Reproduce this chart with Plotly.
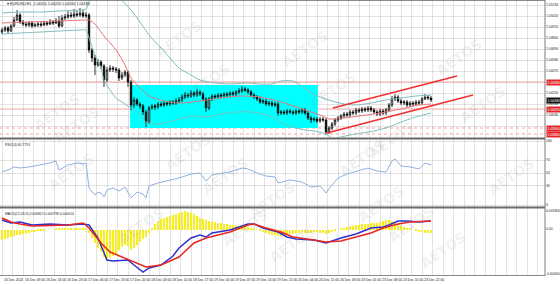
import plotly.graph_objects as go
from datetime import datetime, timedelta

# ---------------- data (EURUSD H1) ----------------
first_open = 1.0486
closes = [1.0488,1.0490,1.0487,1.0492,1.0498,1.0503,1.0496,1.0494,1.0493,1.0495,1.0492,1.0493,1.0494,1.0493,1.0495,1.0494,1.0496,1.0495,1.0497,1.0492,1.0500,1.0501,1.0503,1.0502,1.0504,1.0503,1.0505,1.0502,1.0503,
          1.0468,1.0460,1.0453,1.0456,1.0452,1.0438,1.0448,1.0450,1.0449,1.0448,1.0440,1.0443,1.0446,1.0436,
          1.0413,1.0418,1.0414,1.0412,1.0406,1.0396,1.0410,1.0412,1.0411,1.0414,1.0413,1.0415,1.0414,1.0416,1.0415,1.0417,1.0418,
          1.0421,1.0423,1.0422,1.0425,1.0423,1.0426,1.0424,1.0419,1.0410,1.0419,1.0422,1.0421,1.0423,1.0422,1.0424,1.0423,1.0425,1.0424,1.0426,1.0427,1.0429,1.0428,1.0426,1.0423,1.0421,1.0419,1.0416,1.0417,1.0414,1.0415,1.0413,1.0414,
          1.0405,1.0406,1.0405,1.0407,1.0406,1.0405,1.0407,1.0406,1.0408,1.0405,1.0400,1.0398,1.0399,1.0397,1.0399,1.0398,
          1.0386,1.0390,1.0394,1.0398,1.0400,1.0402,1.0404,1.0403,1.0406,1.0405,1.0408,1.0407,1.0409,1.0408,1.0410,1.0408,1.0406,1.0404,1.0407,1.0405,1.0408,1.0413,1.0419,1.0421,1.0417,1.0415,1.0416,1.0413,1.0415,1.0414,1.0416,1.0415,1.0419,1.0421,1.0420,1.0418]
highs = [1.0490,1.0492,1.0492,1.0494,1.0501,1.0508,1.0505,1.0498,1.0496,1.0497,1.0497,1.0495,1.0496,1.0496,1.0497,1.0497,1.0499,1.0498,1.0500,1.0502,1.0503,1.0504,1.0507,1.0506,1.0509,1.0507,1.0510,1.0508,1.0506,
         1.0505,1.0470,1.0463,1.0459,1.0458,1.0454,1.0451,1.0453,1.0452,1.0451,1.0450,1.0446,1.0448,1.0447,
         1.0438,1.0421,1.0420,1.0416,1.0414,1.0408,1.0412,1.0414,1.0414,1.0416,1.0416,1.0417,1.0417,1.0418,1.0418,1.0420,1.0421,
         1.0424,1.0426,1.0425,1.0428,1.0427,1.0429,1.0428,1.0426,1.0421,1.0421,1.0424,1.0424,1.0425,1.0425,1.0426,1.0426,1.0427,1.0427,1.0428,1.0430,1.0432,1.0431,1.0430,1.0428,1.0425,1.0423,1.0421,1.0419,1.0419,1.0417,1.0417,1.0416,
         1.0416,1.0408,1.0408,1.0409,1.0409,1.0408,1.0409,1.0409,1.0410,1.0410,1.0407,1.0402,1.0401,1.0401,1.0401,1.0401,
         1.0400,1.0392,1.0396,1.0400,1.0402,1.0404,1.0406,1.0406,1.0408,1.0408,1.0410,1.0410,1.0411,1.0411,1.0412,1.0412,1.0410,1.0408,1.0409,1.0409,1.0410,1.0415,1.0422,1.0424,1.0423,1.0419,1.0418,1.0418,1.0417,1.0417,1.0418,1.0418,1.0421,1.0424,1.0423,1.0422]
lows = [1.0484,1.0486,1.0485,1.0486,1.0491,1.0497,1.0494,1.0492,1.0491,1.0491,1.0490,1.0491,1.0491,1.0491,1.0492,1.0492,1.0493,1.0493,1.0494,1.0490,1.0491,1.0498,1.0499,1.0500,1.0500,1.0501,1.0501,1.0500,1.0500,
        1.0465,1.0456,1.0443,1.0451,1.0449,1.0431,1.0436,1.0446,1.0446,1.0445,1.0437,1.0438,1.0441,1.0431,
        1.0408,1.0410,1.0412,1.0409,1.0403,1.0391,1.0394,1.0408,1.0408,1.0409,1.0411,1.0411,1.0412,1.0412,1.0413,1.0413,1.0415,
        1.0416,1.0419,1.0420,1.0420,1.0421,1.0421,1.0422,1.0417,1.0406,1.0408,1.0417,1.0419,1.0419,1.0420,1.0420,1.0421,1.0421,1.0422,1.0422,1.0424,1.0425,1.0426,1.0424,1.0421,1.0419,1.0417,1.0414,1.0414,1.0412,1.0412,1.0411,1.0411,
        1.0402,1.0403,1.0403,1.0403,1.0404,1.0403,1.0403,1.0404,1.0404,1.0403,1.0398,1.0395,1.0396,1.0395,1.0395,1.0396,
        1.0383,1.0384,1.0388,1.0392,1.0396,1.0398,1.0400,1.0401,1.0401,1.0403,1.0403,1.0405,1.0405,1.0406,1.0406,1.0406,1.0404,1.0402,1.0402,1.0403,1.0403,1.0406,1.0411,1.0417,1.0415,1.0413,1.0413,1.0411,1.0411,1.0412,1.0412,1.0413,1.0413,1.0418,1.0418,1.0416]
opens = [first_open] + closes[:-1]
bars = list(range(len(closes)))
start_time = datetime(2024, 12, 16, 2, 0)

# Bollinger bands (read at sample bars)
bb_upper_bars = [0,6,13,19,26,28,29,31,34,38,40,43,46,49,53,56,59,63,66,71,76,81,86,90,93,97,100,103,107,110,114,118,123,128,133,138,143]
bb_upper = [1.0505,1.0506,1.0506,1.0507,1.0508,1.0509,1.0516,1.0526,1.0533,1.0528,1.0518,1.0508,1.0496,1.0483,1.0470,1.0460,1.0450,1.0443,1.0438,1.0435,1.0434,1.0435,1.0434,1.0434,1.0437,1.0437,1.0432,1.0425,1.0420,1.0417,1.0414,1.0413,1.0415,1.0418,1.0420,1.0422,1.0423]
bb_lower_bars = [0,6,13,19,26,28,29,31,33,34,36,38,41,43,46,48,51,54,58,63,68,73,78,83,87,91,94,98,101,104,108,110,113,116,120,124,129,134,139,143]
bb_lower = [1.0484,1.0485,1.0486,1.0487,1.0488,1.0488,1.0480,1.0463,1.0450,1.0438,1.0428,1.0420,1.0414,1.0410,1.0403,1.0396,1.0394,1.0395,1.0398,1.0402,1.0401,1.0404,1.0406,1.0406,1.0404,1.0400,1.0394,1.0390,1.0388,1.0387,1.0384,1.0380,1.0381,1.0383,1.0385,1.0387,1.0391,1.0397,1.0402,1.0405]
bb_mid_bars = [0,9,19,28,29,31,34,38,41,43,46,49,54,59,66,73,79,86,93,99,106,109,114,119,126,133,139,143]
bb_mid = [1.0495,1.0496,1.0497,1.0498,1.0498,1.0494,1.0482,1.0468,1.0453,1.0440,1.0430,1.0422,1.0417,1.0415,1.0417,1.0420,1.0422,1.0421,1.0416,1.0410,1.0403,1.0399,1.0400,1.0402,1.0405,1.0409,1.0413,1.0414]

# drawn objects
box_bars = [42.7, 105.3]
box_prices = [1.0390, 1.0433]
chan_upper_bars = [110.3, 151.7]
chan_upper_prices = [1.0410, 1.0442]
chan_lower_bars = [108.3, 157.0]
chan_lower_prices = [1.0385, 1.0423]
level_prices = [1.0436, 1.0409, 1.0390, 1.0384]
level_dash = ["solid", "solid", "dot", "dot"]
current_price = 1.0418
price_ticks = [1.0513,1.0502,1.0491,1.0480,1.0469,1.0458,1.0447,1.0436,1.0425,1.0414,1.0403,1.0392]

# RSI(14)
rsi_bars = [0,2,4,6,9,13,16,18,19,22,25,27,28,29,30,31,32,33,34,35,37,39,41,42,43,45,47,48,49,52,56,59,63,66,68,70,76,80,82,85,88,91,92,96,100,103,106,108,110,112,115,119,122,125,128,130,131,133,136,139,141,143]
rsi_vals = [51.6,54.7,59.4,57.8,59.4,62.5,65.6,68.8,54.7,62.5,65.6,64.1,65.6,26.6,21.9,15.6,20.3,18.8,12.5,23.4,26.6,21.9,28.1,18.8,10.9,20.3,17.2,10.9,29.7,34.4,39.1,42.2,48.4,50.0,37.5,46.9,51.6,57.8,56.3,50.0,45.3,43.8,34.4,39.1,35.9,28.1,29.7,18.8,31.3,42.2,48.4,53.1,57.8,53.1,51.6,68.8,71.9,60.9,59.4,56.3,65.6,62.5]
rsi_ticks = [100, 70, 50, 30, 0]

# MACD(12,26,9)
macd_bars = [0,3,6,10,16,22,27,29,32,34,35,37,42,44,47,49,53,57,59,63,66,68,70,76,82,84,87,92,95,98,104,108,113,118,123,127,129,132,135,139,143]
macd_main = [0.0009,0.0006,0.0007,0.0004,0.0005,0.0004,0.0005,0.0004,-0.0009,-0.0023,-0.0031,-0.0032,-0.0031,-0.0036,-0.0043,-0.0039,-0.0036,-0.0027,-0.0019,-0.0009,-0.0006,-0.0008,-0.0004,-0.0001,0.0005,0.0005,0.0001,-0.0003,-0.0008,-0.0010,-0.0011,-0.0014,-0.0009,-0.0005,0.0001,0.0002,0.0004,0.0008,0.0008,0.0007,0.0008]
signal_bars = [0,3,6,10,22,27,29,33,36,40,45,48,53,57,59,64,68,76,82,84,88,93,97,104,108,113,118,123,127,132,136,143]
macd_signal = [0.0011,0.0007,0.0005,0.0003,0.0004,0.0006,0.0001,-0.0014,-0.0023,-0.0028,-0.0034,-0.0038,-0.0036,-0.0031,-0.0028,-0.0014,-0.0009,-0.0003,0.0004,0.0005,0.0001,-0.0003,-0.0008,-0.0011,-0.0013,-0.0012,-0.0008,-0.0004,0.0001,0.0005,0.0007,0.0008]
macd_hist = [-0.0010,-0.0009,-0.0008,-0.0007,
             -0.0006,-0.0005,-0.0005,-0.0004,-0.0004,-0.0003,
             -0.0002,-0.0002,-0.0001,-0.0001,-0.0001,0.0,0.0,0.0,0.0001,0.0001,0.0001,0.0001,0.0001,0.0001,0.0001,0.0001,0.0001,0.0001,0.0001,
             -0.0003,-0.0008,-0.0013,-0.0018,-0.0022,-0.0027,-0.0029,-0.0028,
             -0.0026,-0.0024,-0.0020,-0.0017,-0.0015,-0.0016,-0.0020,
             -0.0018,-0.0015,-0.0012,-0.0009,-0.0007,
             -0.0003,0.0002,0.0006,0.0009,0.0011,0.0012,0.0013,0.0014,0.0015,
             0.0016,0.0017,0.0018,0.0019,0.0018,0.0017,0.0016,0.0014,0.0012,
             0.0011,0.0010,0.0009,0.0008,0.0008,0.0007,
             0.0007,0.0006,0.0006,0.0005,0.0005,0.0005,0.0004,0.0004,0.0003,0.0003,
             0.0002,0.0001,0.0,-0.0001,-0.0002,
             -0.0003,-0.0004,-0.0005,-0.0005,-0.0006,-0.0006,-0.0005,-0.0005,-0.0004,-0.0004,
             -0.0003,-0.0003,-0.0003,-0.0003,-0.0003,-0.0003,-0.0002,-0.0002,-0.0003,-0.0003,-0.0004,
             -0.0003,-0.0002,-0.0001,0.0,0.0001,
             0.0002,0.0003,0.0004,0.0004,0.0005,0.0005,0.0006,0.0006,0.0006,0.0007,0.0007,0.0007,
             0.0008,0.0009,0.0010,0.0010,0.0009,0.0008,0.0006,
             0.0004,0.0003,0.0002,0.0001,0.0,-0.0001,-0.0002,-0.0002,-0.0003,-0.0003,-0.0003]
macd_ticks = [0.0018, 0.0, -0.0045]
macd_tick_text = ["0.001800", "0.00", "-0.004500"]

# ---------------- geometry ----------------
W, H = 560, 284
PX_RIGHT = 545.0
def py(y):  # pixel row -> paper y
    return 1 - y / H
XR = [-0.667, 181.0]
FONT = "Liberation Sans"
FS = 3.4
GRID = "rgba(0,0,0,0.11)"

# bar times (skip weekends) for time labels
times = []
t = start_time
while len(times) < len(bars):
    if t.weekday() < 5:
        times.append(t)
    t += timedelta(hours=1)
label_bars = list(range(0, len(bars), 7))

fig = go.Figure()

fig.add_trace(go.Candlestick(
    x=bars, open=opens, high=highs, low=lows, close=closes,
    increasing=dict(line=dict(color="black", width=0.8), fillcolor="white"),
    decreasing=dict(line=dict(color="black", width=0.8), fillcolor="black"),
    whiskerwidth=0, xaxis="x", yaxis="y", showlegend=False, hoverinfo="skip"))
fig.add_trace(go.Scatter(x=bb_upper_bars, y=bb_upper, mode="lines", xaxis="x", yaxis="y",
                         line=dict(color="#7dbdbd", width=1, shape="spline", smoothing=0.7), hoverinfo="skip"))
fig.add_trace(go.Scatter(x=bb_lower_bars, y=bb_lower, mode="lines", xaxis="x", yaxis="y",
                         line=dict(color="#7dbdbd", width=1, shape="spline", smoothing=0.7), hoverinfo="skip"))
fig.add_trace(go.Scatter(x=bb_mid_bars, y=bb_mid, mode="lines", xaxis="x", yaxis="y",
                         line=dict(color="#e57373", width=1, shape="spline", smoothing=0.7), hoverinfo="skip"))
fig.add_trace(go.Scatter(x=chan_upper_bars, y=chan_upper_prices, mode="lines", xaxis="x", yaxis="y",
                         line=dict(color="#f03030", width=1.6), hoverinfo="skip"))
fig.add_trace(go.Scatter(x=chan_lower_bars, y=chan_lower_prices, mode="lines", xaxis="x", yaxis="y",
                         line=dict(color="#f03030", width=1.6), hoverinfo="skip"))

# RSI
fig.add_trace(go.Scatter(x=rsi_bars, y=rsi_vals, mode="lines", xaxis="x2", yaxis="y2",
                         line=dict(color="#8fb2e0", width=1), hoverinfo="skip"))
# MACD
fig.add_trace(go.Bar(x=bars, y=macd_hist, xaxis="x3", yaxis="y3", width=0.45,
                     marker=dict(color="#f7ee1a", line=dict(width=0)), hoverinfo="skip"))
fig.add_trace(go.Scatter(x=macd_bars, y=macd_main, mode="lines", xaxis="x3", yaxis="y3",
                         line=dict(color="#3030d0", width=1.5), hoverinfo="skip"))
fig.add_trace(go.Scatter(x=signal_bars, y=macd_signal, mode="lines", xaxis="x3", yaxis="y3",
                         line=dict(color="#e8261e", width=1.5), hoverinfo="skip"))

dom_x = [0, PX_RIGHT / W]
ax_common = dict(range=XR, domain=dom_x, showticklabels=False, ticks="", zeroline=False,
                 tickmode="linear", tick0=0, dtick=3.5, showgrid=True, gridcolor=GRID, gridwidth=0.6,
                 showline=False, fixedrange=True)
yfont = dict(family=FONT, size=FS, color="#222")

# tick labels hidden where a price tag covers them (as on the platform)
covered = {1.0436, 1.0392}
price_tick_text = ["" if v in covered else f"{v:.5f}" for v in price_ticks]

fig.update_layout(
    width=W, height=H, autosize=False, margin=dict(l=0, r=0, t=0, b=0),
    paper_bgcolor="white", plot_bgcolor="white", showlegend=False, hovermode=False, bargap=0,
    xaxis=dict(**ax_common, anchor="y", rangeslider=dict(visible=False)),
    xaxis2=dict(**ax_common, anchor="y2", matches="x"),
    xaxis3=dict(**ax_common, anchor="y3", matches="x"),
    yaxis=dict(domain=[py(137.5), py(1)], range=[1.03805, 1.0517], side="right", anchor="x",
               tickmode="array", tickvals=price_ticks, ticktext=price_tick_text,
               showgrid=True, gridcolor=GRID, gridwidth=0.6, zeroline=False, ticks="", tickfont=yfont,
               fixedrange=True),
    yaxis2=dict(domain=[py(207), py(139.5)], range=[-3.125, 102.34], side="right", anchor="x2",
                tickmode="array", tickvals=rsi_ticks, ticktext=[str(v) for v in rsi_ticks],
                showgrid=True, gridcolor=GRID, gridwidth=0.6, zeroline=False, ticks="", tickfont=yfont,
                fixedrange=True),
    yaxis3=dict(domain=[py(275), py(208.5)], range=[-0.0046, 0.00205], side="right", anchor="x3",
                tickmode="array", tickvals=macd_ticks, ticktext=macd_tick_text,
                showgrid=False, zeroline=False, ticks="", tickfont=yfont, fixedrange=True),
)

shapes = []
# horizontal levels (under the rectangle)
for p, d in zip(level_prices, level_dash):
    shapes.append(dict(type="line", xref="x", yref="y", x0=XR[0], x1=XR[1], y0=p, y1=p,
                       line=dict(color="#f29a9a", width=0.9, dash=d), layer="between"))
# cyan rectangle
shapes.append(dict(type="rect", xref="x", yref="y", x0=box_bars[0], x1=box_bars[1],
                   y0=box_prices[0], y1=box_prices[1], fillcolor="#00ffff", line=dict(width=0), layer="between"))
# frame / separators
for yy, wd, col in [(0.5, 1, "#8a8a8a"), (138.5, 2, "#6a6a6a"), (207.5, 2, "#6a6a6a"), (275.5, 1, "#8a8a8a")]:
    shapes.append(dict(type="line", xref="paper", yref="paper", x0=0, x1=PX_RIGHT / W,
                       y0=py(yy), y1=py(yy), line=dict(color=col, width=wd), layer="above"))
shapes.append(dict(type="line", xref="paper", yref="paper", x0=PX_RIGHT / W, x1=PX_RIGHT / W,
                   y0=py(276), y1=py(0), line=dict(color="#7a7a7a", width=1), layer="above"))
fig.update_layout(shapes=shapes)

ann = []
# watermark
wm = [(150, 15), (178, 58), (305, 25), (333, 66), (488, 33), (512, 80), (28, 88), (48, 125),
      (188, 152), (362, 158), (420, 140), (540, 176), (42, 196), (225, 200), (272, 224), (112, 250),
      (245, 252), (292, 268), (410, 228), (440, 248), (472, 274)]
for (wx, wy) in wm:
    ann.append(dict(x=wx / W, y=py(wy), xref="paper", yref="paper", text="<b>AETOS</b>", showarrow=False,
                    textangle=-35, font=dict(family="DejaVu Sans", size=14, color="rgba(150,150,150,0.13)")))
# panel titles
ann.append(dict(x=5 / W, y=py(4), xref="paper", yref="paper", xanchor="left", yanchor="middle", showarrow=False,
                text="▾ EURUSD,H1  1.04200 1.04220 1.04160 1.04180", font=dict(family=FONT, size=FS + 0.3, color="#222")))
ann.append(dict(x=3 / W, y=py(144.5), xref="paper", yref="paper", xanchor="left", yanchor="middle", showarrow=False,
                text="RSI(14) 60.7753", font=dict(family=FONT, size=FS, color="#222")))
ann.append(dict(x=3 / W, y=py(213.5), xref="paper", yref="paper", xanchor="left", yanchor="middle", showarrow=False,
                text="MACD(12,26,9) 0.000812 0.000798 0.000014", font=dict(family=FONT, size=FS, color="#222")))
# price tags on the right axis
for p in level_prices:
    ann.append(dict(x=PX_RIGHT / W + 0.001, y=p, xref="paper", yref="y", xanchor="left", yanchor="middle",
                    showarrow=False, text=f"{p:.5f}", bgcolor="#e3262b", borderpad=0.6,
                    font=dict(family=FONT, size=FS, color="white")))
ann.append(dict(x=PX_RIGHT / W + 0.001, y=current_price, xref="paper", yref="y", xanchor="left", yanchor="middle",
                showarrow=False, text=f"{current_price:.5f}", bgcolor="#111111", borderpad=0.6,
                font=dict(family=FONT, size=FS, color="white")))
# time labels
for i, b in enumerate(label_bars):
    tt = times[b]
    txt = tt.strftime("%d %b %Y") if i == 0 else tt.strftime("%d %b %H:%M")
    ann.append(dict(x=b, y=py(279.5), xref="x3", yref="paper", xanchor="left", yanchor="middle",
                    showarrow=False, text=txt, font=dict(family=FONT, size=FS, color="#222")))
fig.update_layout(annotations=ann)

fig.write_html("out.html", config={"displayModeBar": False})
